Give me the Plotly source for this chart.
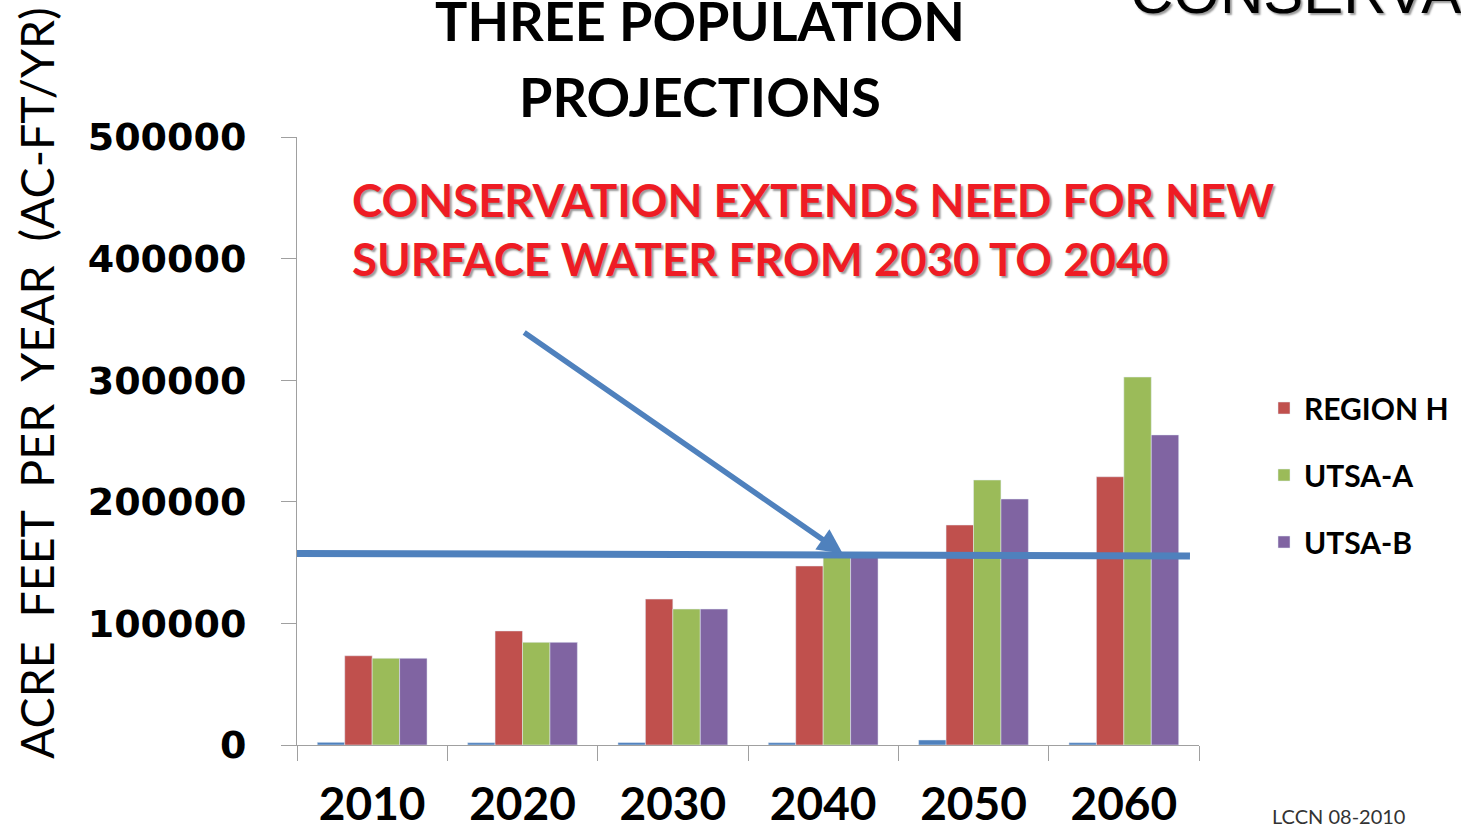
import plotly.graph_objects as go

years = ["2010", "2020", "2030", "2040", "2050", "2060"]
base_series = [2200, 1900, 2000, 1900, 4100, 1900]
region_h = [73400, 93800, 120000, 147200, 180900, 220600]
utsa_a = [71300, 84400, 111800, 156000, 217900, 302600]
utsa_b = [71300, 84400, 111800, 158000, 202300, 255000]
need_line = [157500, 155500]
y_ticks = [0, 100000, 200000, 300000, 400000, 500000]

BLUE = "#4F81BD"
RED = "#C0504D"
GREEN = "#9BBB59"
PURPLE = "#8064A2"

fig = go.Figure()
fig.add_trace(go.Bar(x=years, y=base_series, name="SERIES 1", marker_color=BLUE, showlegend=False))
fig.add_trace(go.Bar(x=years, y=region_h, name="REGION H", marker_color=RED, legendgroup="a"))
fig.add_trace(go.Bar(x=years, y=utsa_a, name="UTSA-A", marker_color=GREEN, legendgroup="b"))
fig.add_trace(go.Bar(x=years, y=utsa_b, name="UTSA-B", marker_color=PURPLE, legendgroup="c"))

# horizontal need line
fig.add_shape(type="line", xref="paper", yref="y", x0=0, x1=0.99,
              y0=need_line[0], y1=need_line[1], line=dict(color=BLUE, width=7), layer="above")

# arrow
fig.add_annotation(x=3.13, y=need_line[0], xref="x", yref="y", ax=-320, ay=-222,
                   axref="pixel", ayref="pixel", text="", showarrow=True,
                   arrowhead=2, arrowsize=0.9, arrowwidth=5.5, arrowcolor=BLUE)

shadow = "2px 2px 2px #999"
# titles
fig.add_annotation(text="<b>THREE POPULATION</b>", xref="paper", yref="paper",
                   x=(700 - 297) / 902, y=(745 - 20) / 608, showarrow=False,
                   font=dict(family="Lato", size=54, color="black"), xanchor="center", yanchor="middle")
fig.add_annotation(text="<b>PROJECTIONS</b>", xref="paper", yref="paper",
                   x=(700 - 297) / 902, y=(745 - 97) / 608, showarrow=False,
                   font=dict(family="Lato", size=54, color="black"), xanchor="center", yanchor="middle")
fig.add_annotation(text="CONSERVA", xref="paper", yref="paper",
                   x=(1128 - 297) / 902, y=(745 + 7) / 608, showarrow=False,
                   font=dict(family="Liberation Sans", size=60, color="black", shadow=shadow),
                   xanchor="left", yanchor="middle")
fig.add_annotation(text="<b>CONSERVATION EXTENDS NEED FOR NEW<br>SURFACE WATER FROM 2030 TO 2040</b>",
                   xref="paper", yref="paper", x=(350 - 297) / 902, y=(745 - 229) / 608,
                   showarrow=False, align="left", xanchor="left", yanchor="middle",
                   font=dict(family="Lato", size=45.5, color="#EE1C24", shadow=shadow))
fig.add_annotation(text="ACRE\u00a0\u00a0FEET\u00a0\u00a0PER\u00a0\u00a0YEAR\u00a0\u00a0(AC-FT/YR)",
                   xref="paper", yref="paper", x=(36 - 297) / 902, y=(745 - 383) / 608,
                   textangle=-90, showarrow=False, xanchor="center", yanchor="middle",
                   font=dict(family="Lato", size=46.5, color="black"))
fig.add_annotation(text="LCCN 08-2010", xref="paper", yref="paper",
                   x=(1270 - 297) / 902, y=(745 - 816) / 608, showarrow=False,
                   xanchor="left", yanchor="middle",
                   font=dict(family="Lato", size=20, color="#333333"))

fig.update_layout(
    width=1461, height=835,
    margin=dict(l=297, r=262, t=137, b=90, autoexpand=False),
    paper_bgcolor="white", plot_bgcolor="white",
    barmode="group", bargap=0.27, bargroupgap=0,
    showlegend=True,
    legend=dict(x=(1264 - 297) / 902, y=(745 - 382) / 608, xanchor="left", yanchor="top",
                font=dict(family="Lato", size=30, color="black", weight="bold"), tracegroupgap=25,
                bgcolor="rgba(0,0,0,0)", itemwidth=30),
    xaxis=dict(type="category", showline=True, linecolor="#A0A0A0", linewidth=1,
               ticks="outside", tickson="boundaries", ticklen=15, tickcolor="#A0A0A0",
               tickfont=dict(family="Lato", size=46, color="black", weight="bold"),
               ticklabelstandoff=19, showgrid=False, automargin=False),
    yaxis=dict(range=[0, 500000], tickvals=y_ticks, ticktext=[str(v) for v in y_ticks],
               showline=True, linecolor="#A0A0A0", linewidth=1, ticks="outside", ticklen=15,
               tickcolor="#A0A0A0", showgrid=False, zeroline=False, automargin=False,
               tickfont=dict(family="DejaVu Sans", size=38, color="black", weight="bold"),
               ticklabelstandoff=27),
)

fig.write_html("out.html")
